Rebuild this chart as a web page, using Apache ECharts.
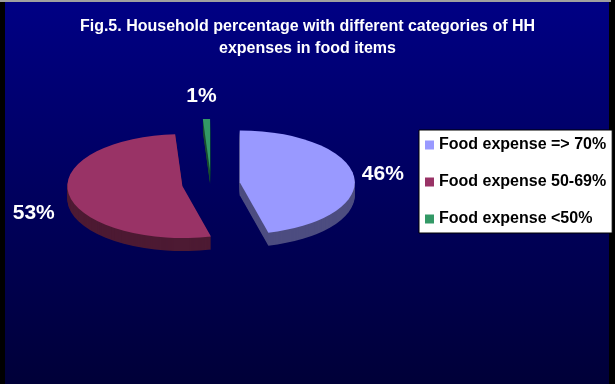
<!DOCTYPE html>
<html>
<head>
<meta charset="utf-8">
<script src="https://cdn.jsdelivr.net/npm/echarts@6/dist/echarts.min.js"></script>
<style>
  html, body { margin: 0; padding: 0; background: #000; }
  #chart { width: 615px; height: 384px; }
</style>
</head>
<body>
<div id="chart"></div>
<script>
// Household shares by food-expense category (percent of households)
const categories = ['Food expense => 70%', 'Food expense 50-69%', 'Food expense <50%'];
const shares = [46, 53, 1];

// Slice colours: top face and darker extruded side
const topColors = ['#9999FF', '#993366', '#339966'];
const sideColors = ['#4D4D80', '#4D1A33', '#1A4D33'];

// 3D pie layout (screen pixels): centre, radius, tilt (y/x ratio), thickness, explosion
const PIE = { cx: 211, cy: 184, r: 115, tilt: 0.452, depth: 13, explode: 29, labelGap: 8 };
const labelNudge = [[0, -2], [-6, 6], [-5, -4]];
const FONT = 'Liberation Sans, Arial, Helvetica, sans-serif';

const total = shares.reduce((s, v) => s + v, 0);

function sliceSeries(i) {
  return {
    type: 'custom',
    name: categories[i],
    coordinateSystem: 'none',
    silent: true,
    itemStyle: { color: topColors[i] },
    data: [[shares[i]]],
    renderItem: function (params, api) {
      const before = shares.slice(0, i).reduce((s, v) => s + v, 0);
      const value = api.value(0);
      // angles measured clockwise from 12 o'clock
      const a0 = before / total * Math.PI * 2;
      const a1 = (before + value) / total * Math.PI * 2;
      const mid = (a0 + a1) / 2;
      const k = PIE.tilt;
      const s = Math.sin(mid), c = Math.cos(mid);
      const ox = PIE.explode * s;
      const oy = -PIE.explode * c;
      const shape = d => ({
        cx: ox, cy: oy + d / k, r0: 0, r: PIE.r,
        startAngle: a0 - Math.PI / 2, endAngle: a1 - Math.PI / 2, clockwise: true
      });
      const faces = [];
      for (let d = PIE.depth; d >= 1; d--) {
        faces.push({ type: 'sector', shape: shape(d), style: { fill: sideColors[i] } });
      }
      faces.push({ type: 'sector', shape: shape(0), style: { fill: topColors[i] } });

      // percentage label just outside the rim at the slice's mid angle
      let lx = PIE.cx + ox + PIE.r * s;
      let ly = PIE.cy + k * (oy - PIE.r * c) + (c < 0 ? PIE.depth : 0);
      let align = 'center', vAlign = 'middle';
      if (s > 0.35) { align = 'left'; lx += PIE.labelGap; }
      else if (s < -0.35) { align = 'right'; lx -= PIE.labelGap; }
      if (c > 0.35) { vAlign = 'bottom'; ly -= PIE.labelGap; }
      else if (c < -0.35) { vAlign = 'top'; ly += PIE.labelGap; }
      lx += labelNudge[i][0];
      ly += labelNudge[i][1];

      return {
        type: 'group',
        children: [
          { type: 'group', x: PIE.cx, y: PIE.cy, scaleY: k, children: faces },
          {
            type: 'text', x: lx, y: ly,
            style: {
              text: value + '%', fill: '#fff', font: 'bold 21px ' + FONT,
              align: align, verticalAlign: vAlign
            }
          }
        ]
      };
    }
  };
}

const chart = echarts.init(document.getElementById('chart'), null, { renderer: 'canvas' });
chart.setOption({
  backgroundColor: '#000',
  animation: false,
  textStyle: { fontFamily: FONT },
  graphic: [
    {
      type: 'rect', z: -10, silent: true,
      shape: { x: 5, y: 2, width: 604, height: 382 },
      style: {
        fill: {
          type: 'linear', x: 0, y: 0, x2: 0, y2: 1,
          colorStops: [{ offset: 0, color: '#000084' }, { offset: 1, color: '#000038' }]
        }
      }
    },
    { type: 'rect', z: -9, silent: true, shape: { x: 0, y: 0, width: 611, height: 2 }, style: { fill: '#a0a0a0' } }
  ],
  title: {
    text: 'Fig.5. Household percentage with different categories of HH\nexpenses in food items',
    left: 'center',
    top: 16,
    padding: 0,
    textStyle: { color: '#fff', fontSize: 16, fontWeight: 'bold', fontFamily: FONT, lineHeight: 22 }
  },
  legend: {
    orient: 'vertical',
    left: 419,
    top: 130,
    padding: [7, 6, 6, 6],
    itemGap: 21,
    itemWidth: 9,
    itemHeight: 9,
    icon: 'rect',
    selectedMode: false,
    backgroundColor: '#fff',
    borderColor: '#000',
    borderWidth: 1,
    textStyle: { color: '#000', fontSize: 16, fontWeight: 'bold', fontFamily: FONT },
    data: categories
  },
  series: categories.map((_, i) => sliceSeries(i))
});
</script>
</body>
</html>
